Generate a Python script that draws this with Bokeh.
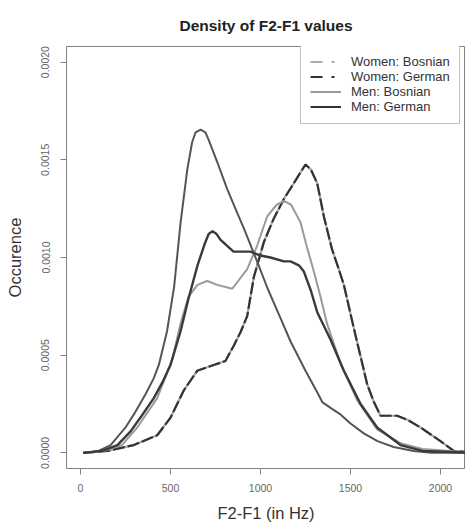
from bokeh.plotting import figure
from bokeh.models import Range1d, FixedTicker, NumeralTickFormatter, Legend, LegendItem
from bokeh.embed import file_html
from bokeh.resources import INLINE

# ---- data ----
title_text = "Density of F2-F1 values"
x_ticks = [0, 500, 1000, 1500, 2000]
y_ticks = [0.0, 0.0005, 0.0010, 0.0015, 0.0020]
legend_labels = ["Women: Bosnian", "Women: German", "Men: Bosnian", "Men: German"]

# tall single-peaked curve
tall_hz = [15, 100, 167, 250, 305, 361, 406, 435, 480, 520, 556, 574, 593, 620, 639, 667, 694,
           713, 759, 815, 870, 907, 981, 1040, 1111, 1167, 1250, 1315, 1343, 1389, 1440, 1500,
           1574, 1650, 1740, 1850, 1950, 2200]
tall_dens = [0, 0.00001, 0.00004, 0.00013, 0.00021, 0.0003, 0.00038, 0.00045, 0.00062, 0.00085,
             0.00118, 0.00131, 0.00145, 0.00159, 0.00164, 0.001654, 0.00164, 0.0016, 0.00149,
             0.00135, 0.00123, 0.00115, 0.00098, 0.00084, 0.00069, 0.00057, 0.00042, 0.00031,
             0.00026, 0.00023, 0.0002, 0.00015, 0.0001, 0.00006, 0.00003, 0.00001, 0, 0]

# dark solid, flat bimodal curve
dark_hz = [15, 120, 205, 278, 340, 407, 460, 500, 555, 600, 650, 690, 712, 733, 756, 778, 850,
           944, 1000, 1055, 1130, 1167, 1213, 1240, 1280, 1315, 1389, 1463, 1556, 1648, 1778,
           1900, 2200]
dark_dens = [0, 0.00001, 0.00004, 0.00011, 0.00019, 0.00028, 0.00037, 0.00045, 0.00062, 0.00079,
             0.00096, 0.00107, 0.00112, 0.001135, 0.00112, 0.00109, 0.00103, 0.00103, 0.00101,
             0.001, 0.00098, 0.00098, 0.00096, 0.00093, 0.00083, 0.00072, 0.00058, 0.00042,
             0.00025, 0.00013, 0.00004, 0.00001, 0]

# light solid bimodal curve
light_hz = [15, 130, 230, 315, 426, 510, 555, 600, 650, 704, 760, 843, 926, 981, 1037, 1090,
            1130, 1170, 1222, 1259, 1296, 1333, 1370, 1444, 1537, 1648, 1778, 1900, 2200]
light_dens = [0, 0.00001, 0.00004, 0.00013, 0.00028, 0.00048, 0.00066, 0.0008, 0.00086, 0.00088,
              0.00086, 0.00084, 0.00094, 0.00106, 0.00121, 0.00127, 0.00129, 0.00127, 0.00118,
              0.00105, 0.00093, 0.0008, 0.00066, 0.00046, 0.00027, 0.00012, 0.00005, 0.00002, 0]

# dashed curve (women)
dash_hz = [15, 150, 296, 426, 500, 574, 648, 740, 805, 852, 890, 926, 963, 1019, 1074, 1130,
           1185, 1225, 1250, 1280, 1315, 1352, 1398, 1435, 1463, 1518, 1593, 1630, 1667, 1722,
           1759, 1815, 1889, 2000, 2074, 2200]
dash_dens = [0, 0.00001, 0.00004, 0.00009, 0.00018, 0.00032, 0.00042, 0.00045, 0.00047, 0.00055,
             0.00062, 0.0007, 0.0009, 0.00108, 0.0012, 0.0013, 0.00138, 0.00144, 0.001476,
             0.00145, 0.00138, 0.00121, 0.00104, 0.00094, 0.00086, 0.00064, 0.00035, 0.00026,
             0.00019, 0.00019, 0.00019, 0.00017, 0.00013, 0.00006, 0.00001, 0]

FONT = "Liberation Sans"

p = figure(width=465, height=524, output_backend="svg", toolbar_location=None,
           x_range=Range1d(-78, 2139), y_range=Range1d(-0.00008, 0.00208),
           min_border_left=66, min_border_right=0, min_border_top=46, min_border_bottom=56,
           title=title_text)
p.title.align = "center"
p.title.text_font = FONT
p.title.text_font_size = "15.5px"
p.title.text_font_style = "bold"
p.title.text_color = "#222222"
p.title.standoff = 26

p.xgrid.visible = False
p.ygrid.visible = False
p.outline_line_color = "#808080"
p.outline_line_width = 1
p.background_fill_color = "white"
p.border_fill_color = "white"

for ax in (p.xaxis[0], p.yaxis[0]):
    ax.axis_line_color = None
    ax.major_tick_line_color = "#808080"
    ax.major_tick_out = 6
    ax.major_tick_in = 0
    ax.minor_tick_line_color = None
    ax.major_label_text_font = FONT
    ax.major_label_text_font_size = "10.5px"
    ax.major_label_text_color = "#666666"
    ax.axis_label_text_font = FONT
    ax.axis_label_text_font_size = "16.5px"
    ax.axis_label_text_font_style = "normal"
    ax.axis_label_text_color = "#333333"

p.xaxis.ticker = FixedTicker(ticks=x_ticks)
p.xaxis.axis_label = "F2-F1 (in Hz)"
p.xaxis.major_label_standoff = 9
p.xaxis.axis_label_standoff = 9

p.yaxis.ticker = FixedTicker(ticks=y_ticks)
p.yaxis.formatter = NumeralTickFormatter(format="0.0000")
p.yaxis.major_label_orientation = "vertical"
p.yaxis.axis_label = "Occurence"
p.yaxis.major_label_standoff = 11
p.yaxis.axis_label_standoff = 15

# curves
p.line(dash_hz, dash_dens, line_color="#a8a8a8", line_width=2.2)
p.line(dash_hz, dash_dens, line_color="#333333", line_width=2.2, line_dash="12 3")
p.line(light_hz, light_dens, line_color="#9a9a9a", line_width=2)
p.line(tall_hz, tall_dens, line_color="#555555", line_width=2)
p.line(dark_hz, dark_dens, line_color="#3a3a3a", line_width=2.4)

# legend-only renderers (no visible data)
nan = float("nan")
styles = [("#aaaaaa", "12 9 3 20"), ("#333333", "12 9 3 20"), ("#9a9a9a", "solid"), ("#333333", "solid")]
items = []
for lab, (col, dash) in zip(legend_labels, styles):
    r = p.line(x=[nan, nan], y=[nan, nan], line_color=col, line_width=2, line_dash=dash)
    items.append(LegendItem(label=lab, renderers=[r]))

legend = Legend(items=items, location=(234, 344), padding=9, spacing=0, margin=0,
                glyph_width=31, glyph_height=15, label_height=15, label_standoff=10,
                label_text_font=FONT, label_text_font_size="13px", label_text_color="#333333",
                border_line_color="#808080", border_line_width=1, background_fill_alpha=1.0)
p.add_layout(legend, "center")

open("out.html", "w").write(file_html(p, INLINE))
